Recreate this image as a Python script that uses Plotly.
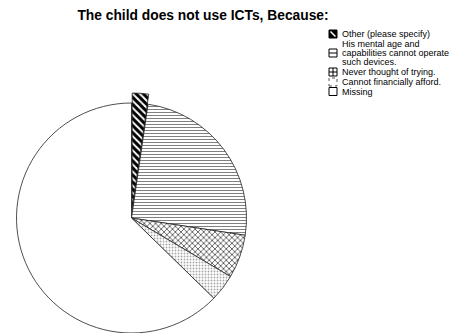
import plotly.graph_objects as go

# Reasons a child does not use ICTs (share of respondents, %)
reasons = [
    "Other (please specify)",
    "His mental age and capabilities cannot operate such devices.",
    "Never thought of trying.",
    "Cannot financially afford.",
    "Missing",
]
shares = [2.3, 25.1, 6.1, 3.8, 62.7]

# Legend text, wrapped the way it is printed next to the icons
legend_lines = [
    ["Other (please specify)"],
    ["His mental age and", "capabilities cannot operate", "such devices."],
    ["Never thought of trying."],
    ["Cannot financially afford."],
    ["Missing"],
]

W, H = 452, 333


def px(x):
    return x / W


def py(y):
    return 1 - y / H


pattern_shapes = ["\\", "-", "x", ".", ""]
pattern_fg = ["#000000", "#808080", "#404040", "#a8a8a8", "#ffffff"]
pattern_size = [5, 3, 4, 3, 8]
pattern_solidity = [0.6, 0.35, 0.35, 0.3, 0.1]

# Main pie
cx, cy, r = 131.5, 218.0, 115.0
main = go.Pie(
    labels=reasons,
    values=shares,
    sort=False,
    direction="clockwise",
    rotation=0,
    textinfo="none",
    hoverinfo="label+percent",
    showlegend=False,
    marker=dict(
        colors=["#ffffff"] * len(reasons),
        line=dict(color="#222222", width=0.8),
        pattern=dict(
            shape=pattern_shapes,
            fgcolor=pattern_fg,
            bgcolor="#ffffff",
            size=pattern_size,
            solidity=pattern_solidity,
            fillmode="replace",
        ),
    ),
    domain=dict(x=[px(cx - r), px(cx + r)], y=[py(cy + r), py(cy - r)]),
)

# Exploded "Other" slice, drawn again offset outward along its bisector
ox, oy = 0.7, -10.0
explode_colors = ["#ffffff"] + ["rgba(0,0,0,0)"] * (len(reasons) - 1)
explode_widths = [0.8] + [0] * (len(reasons) - 1)
exploded = go.Pie(
    labels=reasons,
    values=shares,
    sort=False,
    direction="clockwise",
    rotation=0,
    textinfo="none",
    hoverinfo="skip",
    showlegend=False,
    marker=dict(
        colors=explode_colors,
        line=dict(color="#222222", width=explode_widths),
        pattern=dict(
            shape=[pattern_shapes[0]] + [""] * (len(reasons) - 1),
            fgcolor=pattern_fg[0],
            bgcolor="#ffffff",
            size=pattern_size[0],
            solidity=pattern_solidity[0],
            fillmode="replace",
        ),
    ),
    domain=dict(
        x=[px(cx + ox - r), px(cx + ox + r)],
        y=[py(cy + oy + r), py(cy + oy - r)],
    ),
)

fig = go.Figure([main, exploded])

# Legend: icons and wrapped labels
icon_x0, icon_x1 = 329.0, 337.0
text_x = 341.0
line_y = [[34.0], [43.5, 53.0, 62.5], [72.0], [82.0], [91.5]]
icon_half = 4.0

shapes = []
annotations = []
for i, lines in enumerate(legend_lines):
    ys = line_y[i]
    yc = ys[len(ys) // 2]
    x0, x1 = icon_x0, icon_x1
    y0, y1 = yc - icon_half, yc + icon_half
    box = dict(type="rect", xref="paper", yref="paper",
               x0=px(x0), x1=px(x1), y0=py(y1), y1=py(y0),
               line=dict(color="#000000", width=1), fillcolor="#ffffff")
    if i == 0:
        box["fillcolor"] = "#000000"
        shapes.append(box)
        shapes.append(dict(type="line", xref="paper", yref="paper",
                           x0=px(x0 + 1.5), y0=py(y0 + 1.5),
                           x1=px(x1 - 1.5), y1=py(y1 - 1.5),
                           line=dict(color="#ffffff", width=1.5)))
    elif i == 1:
        shapes.append(box)
        shapes.append(dict(type="line", xref="paper", yref="paper",
                           x0=px(x0), y0=py(yc), x1=px(x1), y1=py(yc),
                           line=dict(color="#000000", width=1)))
    elif i == 2:
        shapes.append(box)
        shapes.append(dict(type="line", xref="paper", yref="paper",
                           x0=px(x0), y0=py(yc), x1=px(x1), y1=py(yc),
                           line=dict(color="#000000", width=1)))
        shapes.append(dict(type="line", xref="paper", yref="paper",
                           x0=px((x0 + x1) / 2), y0=py(y0),
                           x1=px((x0 + x1) / 2), y1=py(y1),
                           line=dict(color="#000000", width=1)))
    elif i == 3:
        box["line"] = dict(color="#555555", width=1, dash="dot")
        shapes.append(box)
    else:
        shapes.append(box)

    for text, y in zip(lines, ys):
        annotations.append(dict(
            text=text, xref="paper", yref="paper",
            x=px(text_x), y=py(y), xanchor="left", yanchor="middle",
            showarrow=False, align="left", borderpad=0,
            font=dict(size=9, color="#000000"),
        ))

fig.update_layout(
    width=W,
    height=H,
    margin=dict(l=0, r=0, t=0, b=0),
    paper_bgcolor="#ffffff",
    plot_bgcolor="#ffffff",
    font=dict(family="Liberation Sans, Arial, sans-serif", color="#000000"),
    showlegend=False,
    title=dict(
        text="<b>The child does not use ICTs, Because:</b>",
        x=px(203),
        xanchor="center",
        y=py(15),
        yanchor="middle",
        font=dict(size=13.8, color="#000000"),
    ),
    shapes=shapes,
    annotations=annotations,
)

fig.write_html("out.html")
